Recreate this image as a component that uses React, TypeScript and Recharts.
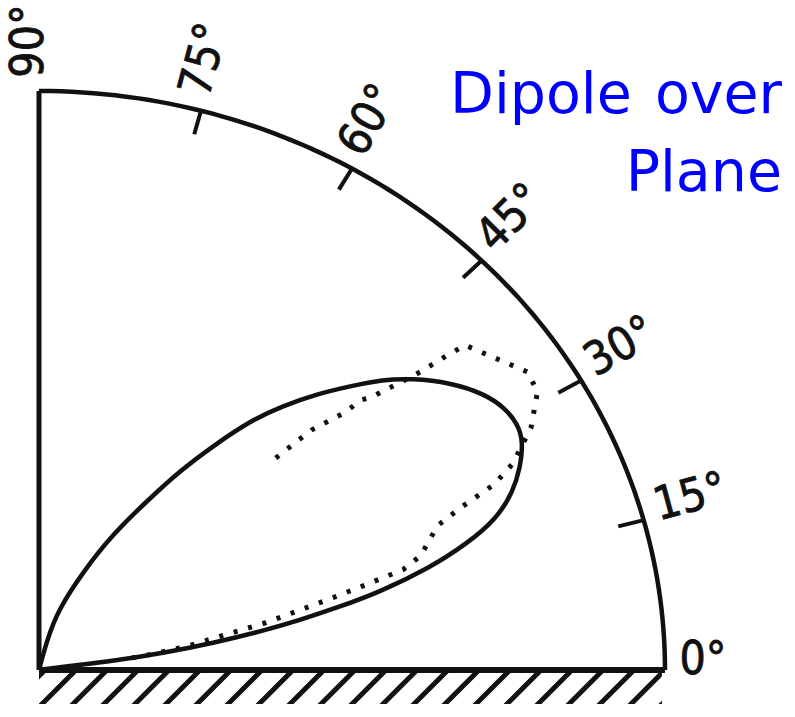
import {
  ComposedChart,
  Line,
  Scatter,
  XAxis,
  YAxis,
  ReferenceLine,
  ReferenceArea,
} from 'recharts'

// elevation angle (deg above the ground plane) and relative field strength
const solidAngles = [0, 7.9, 7.5, 8.4, 9.5, 10.7, 11.7, 12.8, 13.9, 15.8, 17.7, 19.7, 22.1, 24.4, 27.0, 29.0, 31.3, 33.8, 37.1, 40.2, 42.4, 44.6, 47.0, 49.5, 51.9, 54.3, 56.8, 59.4, 63.3, 67.5, 73.6, 76.1, 80]
const solidField = [0, 0.05, 0.119, 0.2, 0.282, 0.364, 0.426, 0.493, 0.561, 0.649, 0.718, 0.777, 0.817, 0.844, 0.868, 0.875, 0.871, 0.857, 0.823, 0.78, 0.744, 0.698, 0.652, 0.6, 0.547, 0.476, 0.411, 0.339, 0.263, 0.183, 0.108, 0.053, 0]

// measured points (dotted trace)
const dottedAngles = [8.0, 8.8, 9.9, 11.4, 12.7, 13.9, 14.9, 15.75, 16.6, 17.95, 21.4, 22.6, 23.8, 25.2, 28.0, 31.1, 33.4, 39.5, 39.7, 39.9, 40.2, 40.4, 41.6, 42.2, 42.3, 43.6, 44.1]
const dottedField = [0.15, 0.193, 0.243, 0.297, 0.371, 0.427, 0.486, 0.543, 0.607, 0.641, 0.684, 0.73, 0.795, 0.836, 0.89, 0.93, 0.935, 0.882, 0.859, 0.837, 0.798, 0.782, 0.71, 0.694, 0.661, 0.601, 0.521]

const scaleAngles = [0, 15, 30, 45, 60, 75, 90]
const scaleLabels = ['0°', '15°', '30°', '45°', '60°', '75°', '90°']
const tickAngles = [15, 30, 45, 60, 75]

const INK = '#111'
const rad = (deg: number) => (deg * Math.PI) / 180
const toXY = (deg: number, r: number) => ({ x: r * Math.cos(rad(deg)), y: r * Math.sin(rad(deg)) })

const solidData = solidAngles.map((a, i) => toXY(a, solidField[i]))
const dottedData = dottedAngles.map((a, i) => toXY(a, dottedField[i]))
// outer rim of the quarter plot, one point per degree
const rimData = Array.from({ length: 91 }, (_, a) => toXY(a, 1))
const labelData = scaleAngles.map((a, i) => ({ ...toXY(a, 1.023), angle: a, text: scaleLabels[i] }))

const AngleLabel = (props: any) => {
  const { cx, cy, payload } = props
  return (
    <text
      transform={`translate(${cx},${cy}) rotate(${-payload.angle})`}
      x={0}
      y={4}
      fontFamily="'Liberation Sans Narrow', 'DejaVu Sans Condensed', 'Liberation Sans', sans-serif"
      fontSize={46}
      fill={INK}
      stroke={INK}
      strokeWidth={0.8}
    >
      {payload.text}
    </text>
  )
}

export default function App() {
  return (
    <div style={{ position: 'absolute', left: 0, top: 0, width: 795, height: 717, background: '#fff' }}>
      <ComposedChart width={795} height={717} margin={{ top: 0, right: 0, bottom: 0, left: 0 }}>
        <defs>
          <pattern id="groundHatch" width="31" height="31" patternUnits="userSpaceOnUse" patternTransform="translate(2,0)">
            <path d="M-2,2 l4,-4 M0,31 l31,-31 M29,33 l4,-4" stroke={INK} strokeWidth={5} />
          </pattern>
        </defs>
        <XAxis type="number" dataKey="x" domain={[-0.0623, 1.2077]} allowDataOverflow hide />
        <YAxis type="number" dataKey="y" domain={[-0.0812, 1.1572]} allowDataOverflow hide />

        <ReferenceArea x1={0} x2={0.995} y1={-0.0587} y2={-0.0052} fill="url(#groundHatch)" fillOpacity={1} stroke="none" />
        <ReferenceLine segment={[{ x: 0, y: 0 }, { x: 1, y: 0 }]} stroke={INK} strokeWidth={6} />
        <ReferenceLine segment={[{ x: 0, y: 0 }, { x: 0, y: 1 }]} stroke={INK} strokeWidth={5} />
        {tickAngles.map((a) => (
          <ReferenceLine key={a} segment={[toXY(a, 0.958), toXY(a, 1)]} stroke={INK} strokeWidth={4} />
        ))}

        <Line data={rimData} dataKey="y" type="linear" stroke={INK} strokeWidth={4.5} dot={false} activeDot={false} isAnimationActive={false} />
        <Line data={solidData} dataKey="y" type="basis" stroke={INK} strokeWidth={4.5} dot={false} activeDot={false} isAnimationActive={false} />
        <Line data={dottedData} dataKey="y" type="linear" stroke={INK} strokeWidth={5} strokeDasharray="4 11" dot={false} activeDot={false} isAnimationActive={false} />
        <Scatter data={labelData} dataKey="y" shape={AngleLabel} isAnimationActive={false} />
      </ComposedChart>
      <div
        style={{
          position: 'absolute',
          right: 13,
          top: 54,
          textAlign: 'right',
          fontFamily: "'DejaVu Sans', Verdana, sans-serif",
          fontSize: 57,
          lineHeight: '78px',
          color: '#0000ff',
          wordSpacing: 5,
        }}
      >
        Dipole over
        <br />
        Plane
      </div>
    </div>
  )
}
